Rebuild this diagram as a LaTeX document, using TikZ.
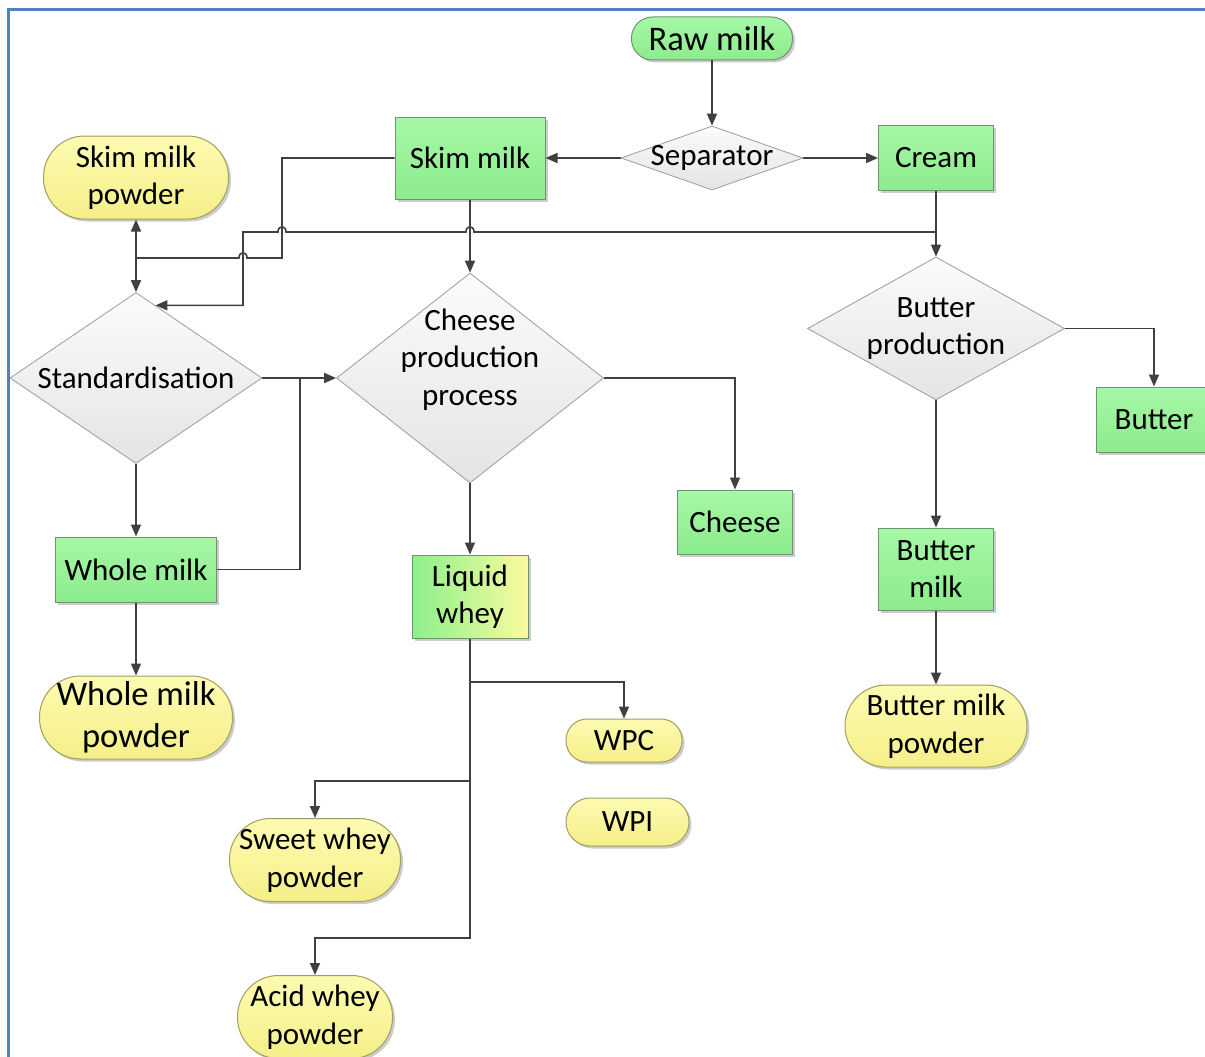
\documentclass[tikz,border=0pt]{standalone}
\usepackage{fontspec}
\setmainfont{Carlito}
\usetikzlibrary{shapes.geometric,arrows.meta,shadows}

\definecolor{conn}{HTML}{404040}
\definecolor{frameblue}{HTML}{4F81BD}
\definecolor{greenTop}{HTML}{A6F8A6}
\definecolor{greenBot}{HTML}{8DEB8D}
\definecolor{greenEdge}{HTML}{6E946E}
\definecolor{yelTop}{HTML}{FDFBB2}
\definecolor{yelBot}{HTML}{F5EF88}
\definecolor{yelEdge}{HTML}{A29E62}
\definecolor{dmTop}{HTML}{FBFBFB}
\definecolor{dmBot}{HTML}{E4E4E4}
\definecolor{dmEdge}{HTML}{9C9C9C}
\definecolor{wheyLeft}{HTML}{8CF08C}
\definecolor{wheyRight}{HTML}{FAFB9E}

\tikzset{
  txt/.style={font=\fontsize{31}{37.5}\selectfont, align=center, text=black},
  bigtxt/.style={font=\fontsize{34.5}{42}\selectfont, align=center, text=black},
  shadowed/.style={drop shadow={shadow xshift=2.5pt, shadow yshift=-2.5pt, opacity=0.2, fill=black}},
  procbox/.style={txt, rectangle, inner sep=0pt, draw=greenEdge, line width=1pt,
    top color=greenTop, bottom color=greenBot, shadowed},
  pill/.style={txt, rectangle, rounded corners=41pt, inner sep=0pt, draw=yelEdge, line width=1pt,
    top color=yelTop, bottom color=yelBot, shadowed},
  slimpill/.style={pill, rounded corners=21pt},
  greenpill/.style={slimpill, draw=greenEdge, top color=greenTop, bottom color=greenBot},
  decision/.style={txt, diamond, inner sep=0pt, draw=dmEdge, line width=0.8pt,
    top color=dmTop, bottom color=dmBot},
  flow/.style={draw=conn, line width=1.6pt},
  arr/.style={flow, -{Triangle[length=12pt, width=10pt]}},
}

\begin{document}
\begin{tikzpicture}[x=1pt, y=-1pt]
  % page
  \fill[white] (0,0) rectangle (1205,1057);
  \useasboundingbox (0,0) rectangle (1205,1057);
  \draw[frameblue, line width=3pt] (8,1065) -- (8,10) -- (1215,10);

  % start
  \node[greenpill, bigtxt, minimum width=161pt, minimum height=43pt] (raw) at (712,38.5) {Raw milk};
  \node[decision, aspect=2.84, inner sep=-3pt, minimum width=182pt, minimum height=64pt] (sep) at (712,158) {Separator};

  % products of separation
  \node[procbox, minimum width=150pt, minimum height=82pt] (skim) at (470,158) {Skim milk};
  \node[procbox, minimum width=115pt, minimum height=65pt] (cream) at (936,158) {Cream};

  % skim milk branch
  \node[pill, minimum width=185pt, minimum height=83pt] (smp) at (136,177.5) {Skim milk\\powder};
  \node[decision, aspect=1.47, minimum width=252pt, minimum height=171pt] (std) at (136,378) {Standardisation};
  \node[decision, aspect=1.27, inner sep=-8pt, minimum width=267pt, minimum height=210pt] (chp) at (470,378)
    {\raisebox{18pt}[\height][\depth]{\begin{tabular}{@{}c@{}}Cheese\\production\\process\end{tabular}}};
  \node[procbox, minimum width=161pt, minimum height=65pt] (wm) at (136,569.5) {Whole milk};
  \node[pill, bigtxt, minimum width=193pt, minimum height=83pt] (wmp) at (136,717.5) {Whole milk\\powder};
  \node[procbox, minimum width=115pt, minimum height=64pt] (cheese) at (735,522) {Cheese};
  \node[procbox, left color=wheyLeft, right color=wheyRight, minimum width=116pt, minimum height=83pt] (lw) at (470,596.5) {Liquid\\whey};

  % whey products
  \node[slimpill, minimum width=116pt, minimum height=43pt] (wpc) at (624,740.5) {WPC};
  \node[slimpill, rounded corners=24pt, minimum width=123pt, minimum height=48pt] (wpi) at (627.5,822) {WPI};
  \node[pill, minimum width=171pt, minimum height=83pt] (swp) at (315,860) {Sweet whey\\powder};
  \node[pill, minimum width=155pt, minimum height=83pt] (awp) at (315,1017) {Acid whey\\powder};

  % cream branch
  \node[decision, aspect=1.8, inner sep=-2pt, minimum width=257pt, minimum height=143pt] (bprod) at (936,328.5) {Butter\\production};
  \node[procbox, minimum width=116pt, minimum height=65pt] (butter) at (1154,419.5) {Butter};
  \node[procbox, minimum width=115pt, minimum height=82pt] (bm) at (936,569) {Butter\\milk};
  \node[pill, minimum width=182pt, minimum height=82pt] (bmp) at (936,726) {Butter milk\\powder};

  % connectors
  \draw[arr] (raw.south) -- (sep.north);
  \draw[arr] (sep.west) -- (skim.east);
  \draw[arr] (sep.east) -- (cream.west);

  % skim milk to the powder and to standardisation
  \coordinate (jskim) at (136,258);
  \draw[flow] (skim.west) -- (282,158) -- (282,258) -- (247,258)
     .. controls (247,251) and (239,251) .. (239,258) -- (jskim);
  \draw[arr] (jskim) -- (smp.south);
  \draw[arr] (jskim) -- (std.north);

  % skim milk to cheese production
  \draw[arr] (skim.south) -- (chp.north);

  % cream to butter production and to standardisation
  \draw[arr] (cream.south) -- (bprod.north);
  \draw[arr] (cream.south) -- (936,232) -- (474,232)
     .. controls (474,225) and (466,225) .. (466,232) -- (286,232)
     .. controls (286,225) and (278,225) .. (278,232) -- (243,232) |- (std.75);

  % standardisation
  \draw[arr] (std.east) -- (chp.west);
  \draw[arr] (std.south) -- (wm.north);
  \draw[flow] (wm.east) -| (300,378);
  \draw[arr] (wm.south) -- (wmp.north);

  % cheese production
  \draw[arr] (chp.east) -| (cheese.north);
  \draw[arr] (chp.south) -- (lw.north);

  % liquid whey
  \coordinate (jw1) at (470,682);
  \coordinate (jw2) at (470,781);
  \draw[flow] (lw.south) -- (jw1) -- (jw2);
  \draw[arr] (jw1) -| (wpc.north);
  \draw[arr] (jw2) -| (swp.north);
  \draw[arr] (jw2) -- (470,938) -| (awp.north);

  % butter production
  \draw[arr] (bprod.east) -| (butter.north);
  \draw[arr] (bprod.south) -- (bm.north);
  \draw[arr] (bm.south) -- (bmp.north);
\end{tikzpicture}
\end{document}
